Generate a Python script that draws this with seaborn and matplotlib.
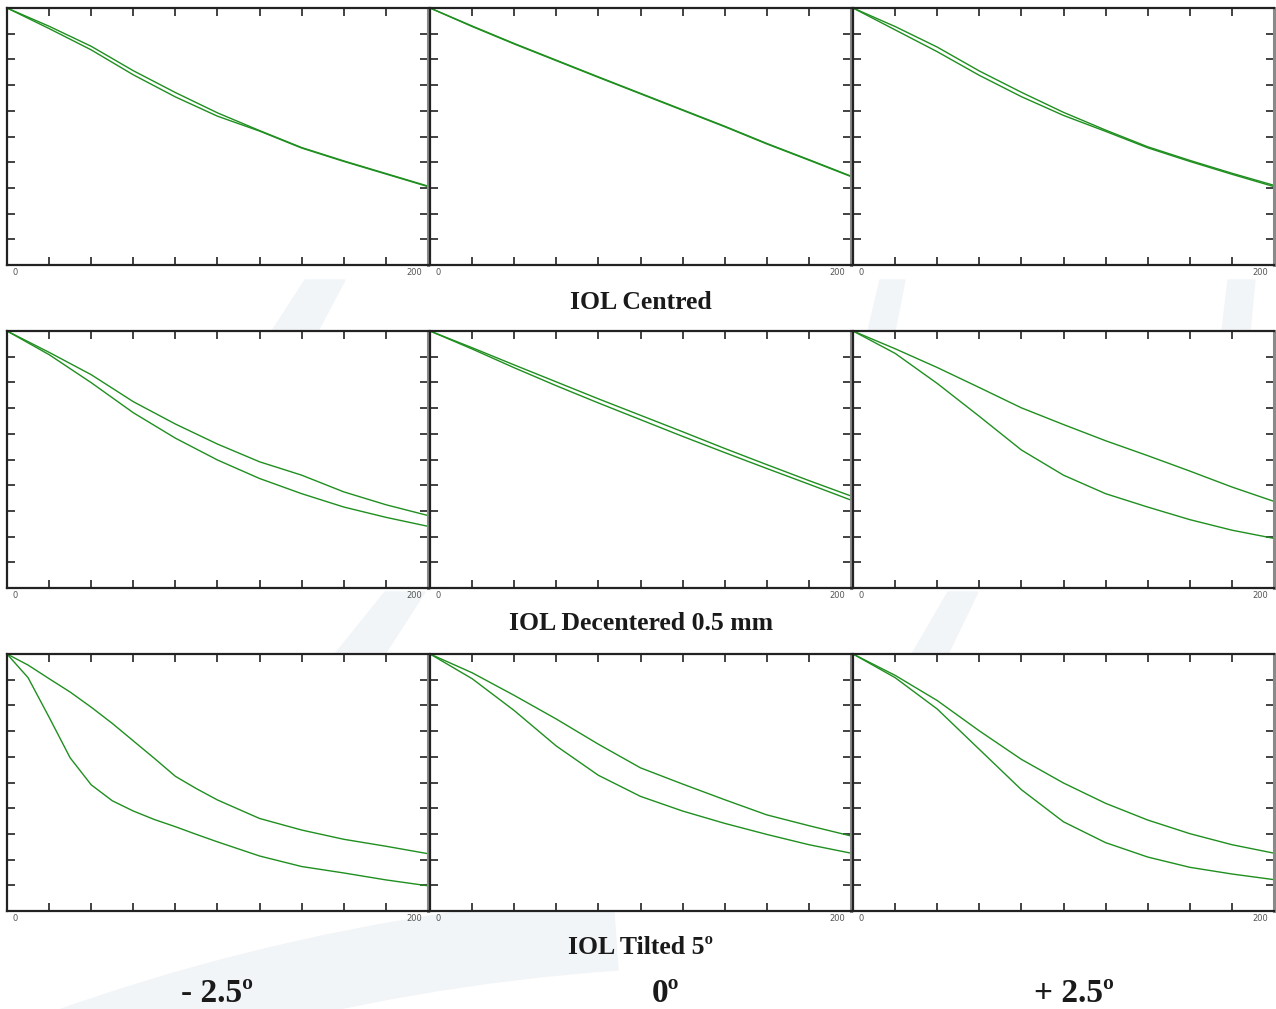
import matplotlib
matplotlib.use('Agg')

import matplotlib.pyplot as plt
import seaborn as sns
from matplotlib.patches import Polygon, Wedge

sns.set_style("white")
plt.rcParams['font.family'] = ['Liberation Serif', 'DejaVu Serif']

# === Data (spatial frequency vs. MTF) ===
freq = [0, 20, 40, 60, 80, 100, 120, 140, 160, 180, 200]
freq_fine = [0, 10, 20, 30, 40, 50, 60, 70, 80, 90, 100, 120, 140, 160, 180, 200]

# IOL centred
cen_m25_a = [1.0, 0.929, 0.851, 0.756, 0.671, 0.592, 0.523, 0.457, 0.405, 0.356, 0.307]
cen_m25_b = [1.0, 0.920, 0.837, 0.740, 0.654, 0.579, 0.521, 0.455, 0.403, 0.354, 0.305]
cen_0_a = [1.0, 0.930, 0.862, 0.797, 0.732, 0.668, 0.604, 0.540, 0.473, 0.410, 0.346]
cen_0_b = [1.0, 0.928, 0.860, 0.795, 0.730, 0.666, 0.602, 0.538, 0.471, 0.408, 0.344]
cen_p25_a = [1.0, 0.928, 0.848, 0.755, 0.672, 0.594, 0.525, 0.460, 0.407, 0.357, 0.310]
cen_p25_b = [1.0, 0.915, 0.830, 0.738, 0.655, 0.582, 0.520, 0.456, 0.403, 0.353, 0.305]

# IOL decentered 0.5 mm
dec_m25_a = [1.0, 0.917, 0.830, 0.725, 0.638, 0.560, 0.491, 0.439, 0.374, 0.324, 0.282]
dec_m25_b = [1.0, 0.908, 0.799, 0.682, 0.583, 0.498, 0.426, 0.367, 0.315, 0.275, 0.240]
dec_0_a = [1.0, 0.935, 0.868, 0.802, 0.736, 0.672, 0.608, 0.543, 0.480, 0.418, 0.358]
dec_0_b = [1.0, 0.930, 0.857, 0.787, 0.720, 0.655, 0.590, 0.527, 0.465, 0.404, 0.342]
dec_p25_a = [1.0, 0.931, 0.858, 0.780, 0.701, 0.636, 0.573, 0.515, 0.455, 0.393, 0.337]
dec_p25_b = [1.0, 0.913, 0.796, 0.668, 0.537, 0.439, 0.367, 0.315, 0.266, 0.225, 0.193]

# IOL tilted 5 deg
tilt_m25_a = [1.0, 0.957, 0.904, 0.852, 0.793, 0.730, 0.662, 0.594, 0.524, 0.476,
              0.432, 0.360, 0.315, 0.279, 0.252, 0.223]
tilt_m25_b = [1.0, 0.908, 0.754, 0.596, 0.491, 0.429, 0.389, 0.356, 0.328, 0.298,
              0.269, 0.214, 0.173, 0.148, 0.121, 0.098]
tilt_0_a = [1.0, 0.927, 0.839, 0.747, 0.649, 0.557, 0.494, 0.433, 0.374, 0.332, 0.292]
tilt_0_b = [1.0, 0.904, 0.780, 0.642, 0.528, 0.446, 0.389, 0.341, 0.298, 0.258, 0.225]
tilt_p25_a = [1.0, 0.917, 0.819, 0.701, 0.590, 0.498, 0.419, 0.354, 0.301, 0.258, 0.225]
tilt_p25_b = [1.0, 0.908, 0.786, 0.629, 0.472, 0.347, 0.266, 0.210, 0.170, 0.144, 0.122]

row_titles = ["IOL Centred", "IOL Decentered 0.5 mm", "IOL Tilted 5º"]
col_labels = ["- 2.5º", "0º", "+ 2.5º"]

panels = [
    [(freq, cen_m25_a, cen_m25_b), (freq, cen_0_a, cen_0_b), (freq, cen_p25_a, cen_p25_b)],
    [(freq, dec_m25_a, dec_m25_b), (freq, dec_0_a, dec_0_b), (freq, dec_p25_a, dec_p25_b)],
    [(freq_fine, tilt_m25_a, tilt_m25_b), (freq, tilt_0_a, tilt_0_b), (freq, tilt_p25_a, tilt_p25_b)],
]

LINE_COLOR = "#1f8f1f"
W, H = 1276, 1009

fig = plt.figure(figsize=(W / 100, H / 100), dpi=100)
fig.patch.set_facecolor("white")

# === very faint watermark in the background ===
bg = fig.add_axes([0, 0, 1, 1], zorder=-5)
bg.set_xlim(0, W)
bg.set_ylim(H, 0)
bg.axis("off")
wm = "#f2f5f8"
bg.add_patch(Wedge((760, 3000), 2110, 243, 266, width=75, color=wm))
for pts in [
    [(305, 280), (345, 280), (318, 331), (272, 331)],
    [(880, 280), (905, 280), (895, 331), (868, 331)],
    [(1228, 280), (1255, 280), (1250, 331), (1222, 331)],
    [(385, 592), (425, 592), (385, 654), (335, 654)],
    [(948, 592), (978, 592), (948, 654), (912, 654)],
]:
    bg.add_patch(Polygon(pts, closed=True, color=wm))

# === panel grid ===
col_px = [(7, 428), (430, 851), (853, 1274)]
row_px = [(8, 265), (331, 588), (654, 911)]

for r, (top, bottom) in enumerate(row_px):
    for c, (left, right) in enumerate(col_px):
        ax = fig.add_axes([left / W, 1 - bottom / H, (right - left) / W, (bottom - top) / H])
        ax.set_facecolor("white")
        x, a, b = panels[r][c]
        sns.lineplot(x=x, y=a, ax=ax, color=LINE_COLOR, linewidth=1.0)
        sns.lineplot(x=x, y=b, ax=ax, color=LINE_COLOR, linewidth=1.0)
        ax.set_xlim(0, 200)
        ax.set_ylim(0, 1)
        ax.set_xticks(range(0, 201, 20))
        ax.set_yticks([i / 10 for i in range(11)])
        ax.tick_params(direction="in", length=6, width=1.2, color="#222222",
                       top=True, right=True, bottom=True, left=True,
                       labelbottom=False, labelleft=False)
        for side in ["left", "top", "bottom"]:
            ax.spines[side].set_color("#222222")
            ax.spines[side].set_linewidth(1.6)
        ax.spines["right"].set_color("#8a8a8a")
        ax.spines["right"].set_linewidth(2.2)
        ax.set_xlabel("")
        ax.set_ylabel("")
        ax.text(0.012, -0.012, "0", transform=ax.transAxes, ha="left", va="top",
                fontsize=6, color="#555555", family="DejaVu Sans")
        ax.text(0.985, -0.012, "200", transform=ax.transAxes, ha="right", va="top",
                fontsize=6, color="#555555", family="DejaVu Sans")

# === row titles and column labels ===
for title, y in zip(row_titles, [302, 624, 947]):
    fig.text(641 / W, 1 - y / H, title, ha="center", va="center",
             fontsize=18.5, fontweight="bold", color="#1a1a1a")

for label, x in zip(col_labels, [217, 666, 1074]):
    fig.text(x / W, 1 - 993 / H, label, ha="center", va="center",
             fontsize=24, fontweight="bold", color="#1a1a1a")

fig.savefig("out.png", dpi=100)
plt.close(fig)
